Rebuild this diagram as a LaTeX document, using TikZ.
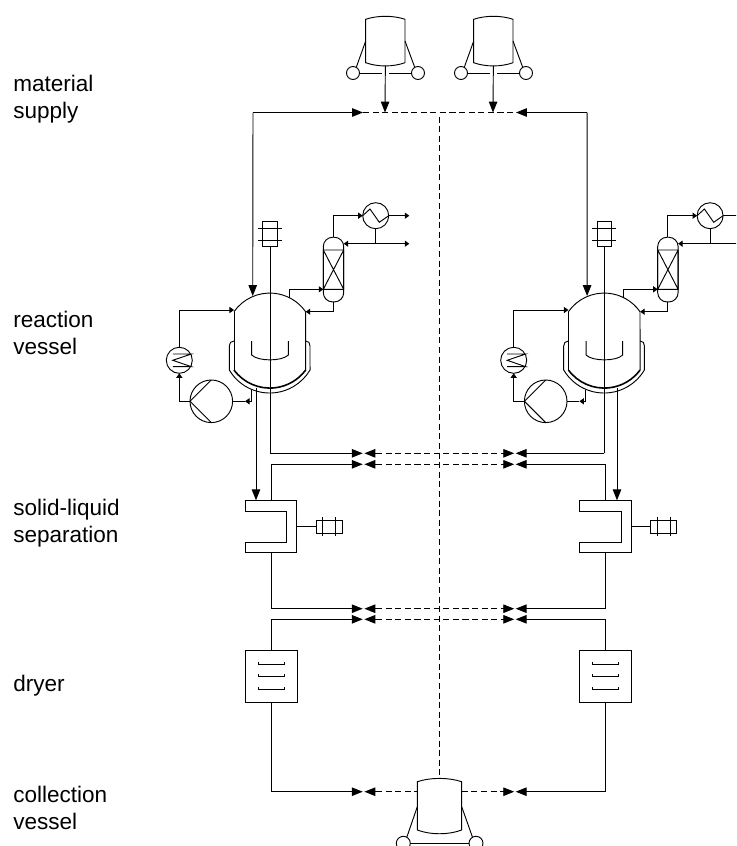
\documentclass[tikz,border=0pt]{standalone}
\usepackage{fontspec}
\setmainfont{Liberation Sans}
\usetikzlibrary{arrows.meta}
\tikzset{
  x=.75pt,y=-.75pt,
  eq/.style={draw=black,line width=.7pt,fill=none},
  ln/.style={draw=black,line width=.7pt},
  big/.style={ln,-{Triangle[length=8.2pt,width=6.4pt]}},
  rbig/.style={ln,{Triangle[length=8.2pt,width=6.4pt]}-},
  small/.style={ln,-{Triangle[length=3.4pt,width=4.6pt]}},
  dsh/.style={draw=black,line width=.7pt,dash pattern=on 4.6pt off 2.6pt},
  lab/.style={anchor=north west,inner sep=0pt,align=left,font=\fontsize{16.9}{20.25}\selectfont},
  circ/.style={eq,circle,inner sep=0pt,outer sep=0pt,minimum size=#1*.75pt},
  boxn/.style={eq,rectangle,inner sep=0pt,outer sep=0pt},
}
% storage tank: #1 name, #2 left x, #3 right x, #4 top side y, #5 top peak y, #6 bottom side y, #7 bottom peak y
\newcommand{\tankbody}[7]{%
  \path[eq] (#2,#4) .. controls ({#2+(#3-#2)*.3},#5) and ({#3-(#3-#2)*.3},#5) .. (#3,#4) -- (#3,#6)
    .. controls ({#3-(#3-#2)*.3},#7) and ({#2+(#3-#2)*.3},#7) .. (#2,#6) -- cycle;
  \coordinate (#1bot) at ({(#2+#3)/2},{#7-0.9});
  \coordinate (#1L) at (#2,{(#4+#6)/2});
  \coordinate (#1R) at (#3,{(#4+#6)/2});
}
\newcommand{\feedtank}[2]{% name, x shift
  \begin{scope}[xshift=#2*.75pt]
    \tankbody{#1}{365.7}{405}{19.3}{15.3}{62.7}{67}
    \node[circ=13] (#1wl) at (353,73) {};
    \node[circ=13] (#1wr) at (418,73) {};
    \draw[ln] (365.7,41) -- (#1wl.60);
    \draw[ln] (405,41) -- (#1wr.120);
    \draw[ln] (#1wl.east) -- (382,73);
    \draw[ln] (389,73) -- (#1wr.west);
  \end{scope}}
% reaction vessel with column, exchangers and pump: name, x shift, outlet x
\newcommand{\reactor}[3]{%
  \begin{scope}[xshift=#2*.75pt]
    \path[eq] (234,311.7) arc[start angle=215,end angle=325,radius=43.7] -- (305.7,370);
    \path[eq] (234,311.7) -- (234,370);
    \draw[line width=1.2pt] (234,370) arc[start angle=143.5,end angle=36.5,radius=44.6];
    \path[eq] (234,341) .. controls (231,341) and (229.3,343) .. (229.3,346) -- (229.3,370)
      arc[start angle=149.4,end angle=30.6,radius=46.9] -- (310,346)
      .. controls (310,343) and (308.7,341) .. (305.7,341);
    % stirrer
    \node[boxn,minimum width=14.6*.75pt,minimum height=24.7*.75pt] (#1mot) at (270,234.3) {};
    \draw[ln] (258,228) -- (282,228) (258,240.7) -- (282,240.7);
    \coordinate (#1sh) at (270,453.3);
    \draw[ln] (#1mot.south) -- (#1sh);
    \draw[ln] (251.7,341) -- (251.7,355) .. controls (258,361.5) and (282,361.5) .. (288.3,355) -- (288.3,341);
    % column
    \node[boxn,rounded corners=7pt,minimum width=20.4*.75pt,minimum height=64.7*.75pt] (#1col) at (333.5,269.6) {};
    \draw[ln] (323.3,250) rectangle (343.7,289.3) (323.3,250) -- (343.7,289.3) (343.7,250) -- (323.3,289.3);
    % condenser
    \node[circ=26] (#1cond) at (375.7,215.7) {};
    \draw[ln] (#1cond.west) -- (370,209) -- (379.3,222.3) -- (#1cond.east);
    \draw[small] (#1col.north) -- (333.5,215.7) -- (#1cond.west);
    \coordinate (#1o1) at (409.3,215.7);
    \coordinate (#1o2) at (409.3,243.7);
    \coordinate (#1cb) at (375.7,243.7);
    \draw[small] (#1cond.east) -- (#1o1);
    \draw[ln] (#1cond.south) -- (#1cb);
    \draw[small] (#1cb) -- (343.7,243.7);
    \draw[small] (#1cb) -- (#1o2);
    \draw[small] (289.3,298) -- (289.3,289.3) -- (323.3,289.3);
    \draw[small] (#1col.south) -- (333.5,311.7) -- (305.7,311.7);
    % pump and cooler
    \node[circ=42.6] (#1pump) at (211.3,401.3) {};
    \draw[ln] (#1pump.north) -- (#1pump.west) -- (#1pump.south);
    \node[circ=26] (#1hx) at (179.3,360.3) {};
    \draw[ln] (172.8,354) -- (191.3,354) -- (172.8,360.3) -- (191.3,366.7) -- (172.8,366.7);
    \draw[small] (#1pump.west) -- (179.3,401.3) -- (#1hx.south);
    \draw[small] (#1hx.north) -- (179.3,310) -- (234,310);
    \coordinate (#1ret) at (251,389.5);
    \draw[ln] (245,401.3) -- (#1pump.east);
    \draw[small] (#1ret) -- (251,401.3) -- (245,401.3);
    \coordinate (#1out) at (#3,388);
    \coordinate (#1feed) at (252.7,296);
  \end{scope}}
\newcommand{\separator}[3]{%
  \begin{scope}[xshift=#2*.75pt]
    \path[eq] (245,500.7) -- (296.7,500.7) -- (296.7,552.3) -- (245,552.3) -- (245,542) -- (286.7,542) -- (286.7,511) -- (245,511) -- cycle;
    \coordinate (#1t) at (271,500.7);
    \coordinate (#1in) at (#3,500.3);
    \coordinate (#1b) at (271,552.3);
    \coordinate (#1e) at (296.7,526.7);
    \node[boxn,minimum width=26*.75pt,minimum height=13.3*.75pt] (#1m) at (329.3,526.7) {};
    \draw[ln] (#1e) -- (#1m.west);
    \draw[ln] (322.7,517) -- (322.7,536.3) (335.7,517) -- (335.7,536.3);
  \end{scope}}
\newcommand{\dryer}[2]{%
  \begin{scope}[xshift=#2*.75pt]
    \node[boxn,minimum width=52*.75pt,minimum height=51.6*.75pt] (#1) at (271,676.5) {};
    \foreach \yy in {664,676.7,689.3}
      \draw[ln] (258,{\yy-2.5}) -- (258,\yy) -- (284.3,\yy) -- (284.3,{\yy-2.5});
  \end{scope}}
\begin{document}
\begin{tikzpicture}
\useasboundingbox (0,0) rectangle (736,846);
\node[lab] (l1) at (13,75) {material\\supply};
\node[lab] (l2) at (13,311) {reaction\\vessel};
\node[lab] (l3) at (13,499) {solid-liquid\\separation};
\node[lab] (l4) at (13,675) {dryer};
\node[lab] (l5) at (13,786) {collection\\vessel};
\begin{scope}
\clip (0,0) rectangle (736,846);
\feedtank{fa}{0}
\feedtank{fb}{108}
\reactor{L}{0}{256}
\reactor{R}{334.4}{282.6}
\separator{LS}{0}{256}
\separator{RS}{334.4}{282.6}
\dryer{LD}{0}
\dryer{RD}{334.4}
% collection vessel
\tankbody{cv}{417.3}{461.7}{781.7}{777.3}{830}{835}
\node[circ=14] (cwl) at (403.3,843.3) {};
\node[circ=14] (cwr) at (476,843.3) {};
\draw[ln] (417.3,806.7) -- (cwl.60);
\draw[ln] (461.7,806.7) -- (cwr.120);
\draw[ln] (cwl.east) -- (cwr.west);
% junction coordinates
\coordinate (tl) at (363,112.5); \coordinate (tr) at (516,112.5);
\coordinate (ta) at (385,112.5); \coordinate (tb) at (493,112.5);
\coordinate (cl) at (253,112.5); \coordinate (cr) at (587.1,112.5);
\coordinate (vt) at (439,116.5); \coordinate (vb) at (439,777);
\draw[dsh] (tl) -- (tr);
\draw[dsh] (vt) -- (vb);
\draw[big] (fabot) -- (ta);
\draw[big] (fbbot) -- (tb);
\draw[big] (cl) -- (tl);
\draw[big] (cr) -- (tr);
\draw[big] (cl) -- (Lfeed);
\draw[big] (cr) -- (Rfeed);
\draw[big] (Lout) -- (LSin);
\draw[big] (Rout) -- (RSin);
% opposing arrowheads of the transfer rows
\foreach \ya in {453.3,464.3,608.7,619.3,791.7}{
  \coordinate (a2) at (376,\ya);
  \coordinate (b1) at (502.7,\ya); \coordinate (b2) at (514.2,\ya);
  \coordinate (c1) at (515.7,\ya); \coordinate (c2) at (526.7,\ya);
  \coordinate (d1) at (364.4,\ya);
  \draw[rbig] (d1) -- (a2);
  \draw[big] (b1) -- (b2);
  \draw[rbig] (c1) -- (c2);
}
\draw[dsh] (376,453.3) -- (502.7,453.3);
\draw[dsh] (376,464.3) -- (502.7,464.3);
\draw[dsh] (376,608.7) -- (502.7,608.7);
\draw[dsh] (376,619.3) -- (502.7,619.3);
\draw[dsh] (376,791.7) -- (cvL |- 376,791.7);
\draw[dsh] (cvR |- 376,791.7) -- (502.7,791.7);
% process lines
\coordinate (p1) at (362.7,453.3); \coordinate (p2) at (362.7,464.3);
\coordinate (p3) at (362.7,608.7); \coordinate (p4) at (362.7,619.3);
\coordinate (p5) at (362.7,791.7);
\draw[big] (Lsh) -- (p1);
\draw[big] (LSt) -- (271,464.3) -- (p2);
\draw[big] (LSb) -- (271,608.7) -- (p3);
\draw[big] (LD.north) -- (271,619.3) -- (p4);
\draw[big] (LD.south) -- (271,791.7) -- (p5);
\draw[ln] (Rsh) -- (526.7,453.3);
\draw[ln] (RSt) -- (605.4,464.3) -- (526.7,464.3);
\draw[ln] (RSb) -- (605.4,608.7) -- (526.7,608.7);
\draw[ln] (RD.north) -- (605.4,619.3) -- (526.7,619.3);
\draw[ln] (RD.south) -- (605.4,791.7) -- (526.7,791.7);
\end{scope}
\end{tikzpicture}
\end{document}
